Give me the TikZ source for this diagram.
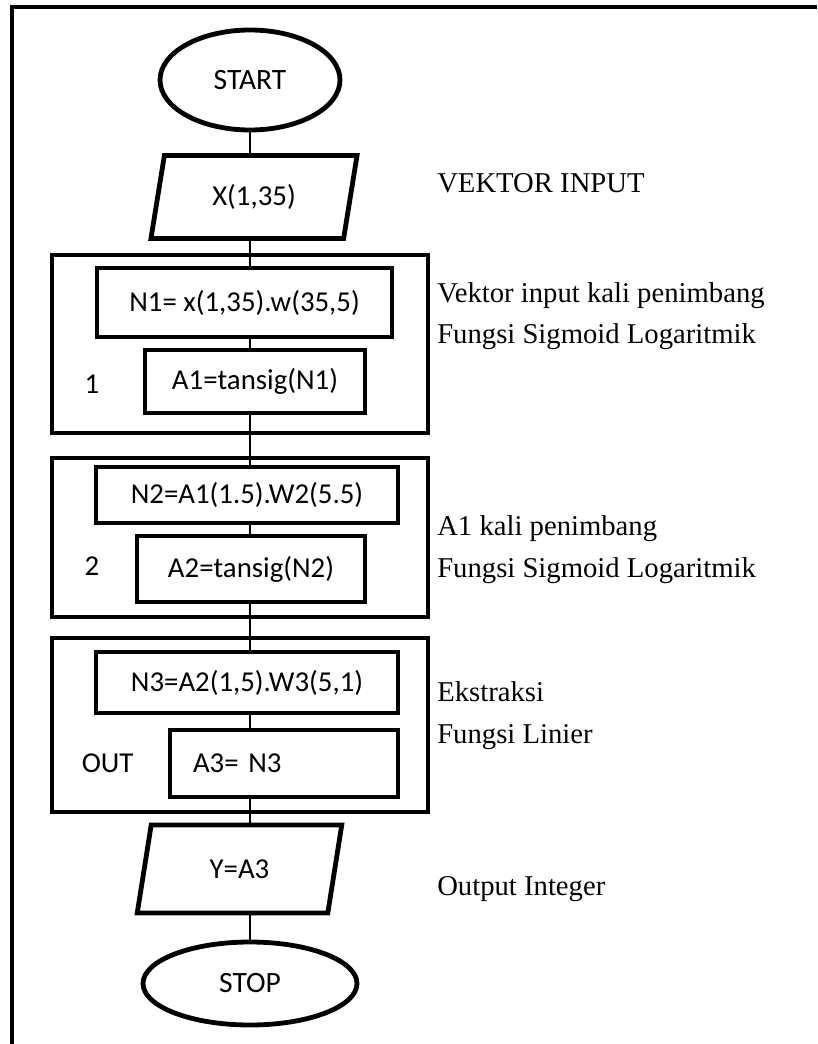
\documentclass[tikz,border=0pt]{standalone}
\usepackage{fontspec}
\setmainfont{Liberation Serif}
\newfontfamily\boxfont{Carlito}
\usetikzlibrary{shapes.geometric}

\begin{document}
\begin{tikzpicture}[
  thick line/.style={line width=0.12cm},
  proc/.style={draw, thick line, rectangle, fill=white, inner sep=0pt,
    font=\boxfont\fontsize{20.5}{24}\selectfont},
  term/.style={draw, thick line, ellipse, inner sep=0pt,
    font=\boxfont\fontsize{21}{24}\selectfont},
  io/.style={draw, thick line, trapezium, trapezium left angle=76,
    trapezium right angle=104, trapezium stretches=true, inner sep=0pt,
    font=\boxfont\fontsize{20.5}{24}\selectfont},
  tag/.style={font=\boxfont\fontsize{20.5}{24}\selectfont, anchor=base},
  note/.style={anchor=base west, inner sep=0pt,
    font=\fontsize{20.4}{25}\selectfont},
  link/.style={line width=1pt}
]

\useasboundingbox (0,0) rectangle (20.425,-26.1);

% Frame (top and left side)
\draw[thick line] (0.3,-26.1) -- (0.3,-0.175) -- (20.425,-0.175);

% Stage blocks
\draw[thick line] (1.3,-6.375) rectangle (10.7,-10.825);
\draw[thick line] (1.3,-11.45) rectangle (10.7,-15.425);
\draw[thick line] (1.3,-15.95) rectangle (10.7,-20.3);

% Start and input
\node[term, minimum width=4.5cm, minimum height=2.5cm] (start) at (6.25,-2.0) {START};
\node[io, minimum width=5.175cm, minimum height=2.075cm] (xin) at (6.35,-4.925) {X(1,35)};

% Layer 1
\node[proc, minimum width=7.375cm, minimum height=1.725cm] (n1) at (6.1125,-7.5625)
{N1= x(1,35).w(35,5)};
\node[proc, minimum width=5.5cm, minimum height=1.575cm] (a1) at (6.375,-9.5375)
{A1=tansig(N1)};
\node[tag] (lay1) at (2.3,-9.825) {1};

% Layer 2
\node[proc, minimum width=7.55cm, minimum height=1.4cm] (n2) at (6.175,-12.375)
{N2=A1(1.5).W2(5.5)};
\node[proc, minimum width=5.7cm, minimum height=1.65cm] (a2) at (6.275,-14.225)
{A2=tansig(N2)};
\node[tag] (lay2) at (2.3,-14.375) {2};

% Output layer
\node[proc, minimum width=7.55cm, minimum height=1.525cm] (n3) at (6.175,-17.0625)
{N3=A2(1,5).W3(5,1)};
\node[proc, minimum width=5.7cm, minimum height=1.675cm, inner xsep=0.575cm,
  text width=4.55cm, align=left] (a3) at (7.1,-19.0875)
{A3= N3};
\node[tag] (layout) at (2.69,-19.3) {OUT};

% Output and stop
\node[io, minimum width=5.125cm, minimum height=2.2cm] (yout) at (5.9875,-21.725) {Y=A3};
\node[term, minimum width=5.35cm, minimum height=2.075cm] (stop) at (6.25,-24.5875) {STOP};

% Flow line
\draw[link] (start.south) -- (xin.north -| start.south);
\draw[link] (xin.south -| start.south) -- (n1.north -| start.south);
\draw[link] (n1.south -| start.south) -- (a1.north -| start.south);
\draw[link] (a1.south -| start.south) -- (n2.north -| start.south);
\draw[link] (n2.south -| start.south) -- (a2.north -| start.south);
\draw[link] (a2.south -| start.south) -- (n3.north -| start.south);
\draw[link] (n3.south -| start.south) -- (a3.north -| start.south);
\draw[link] (a3.south -| start.south) -- (yout.north -| start.south);
\draw[link] (yout.south -| start.south) -- (stop.north);

% Notes
\node[note] (ninput) at (10.925,-4.8) {VEKTOR INPUT};
\node[note] (nl1a) at (10.925,-7.55) {Vektor input kali penimbang};
\node[note] (nl1b) at (10.925,-8.575) {Fungsi Sigmoid Logaritmik};
\node[note] (nl2a) at (10.925,-13.375) {A1 kali penimbang};
\node[note] (nl2b) at (10.925,-14.425) {Fungsi Sigmoid Logaritmik};
\node[note] (nl3a) at (10.925,-17.525) {Ekstraksi};
\node[note] (nl3b) at (10.925,-18.575) {Fungsi Linier};
\node[note] (noutput) at (10.925,-22.375) {Output Integer};

\end{tikzpicture}
\end{document}
